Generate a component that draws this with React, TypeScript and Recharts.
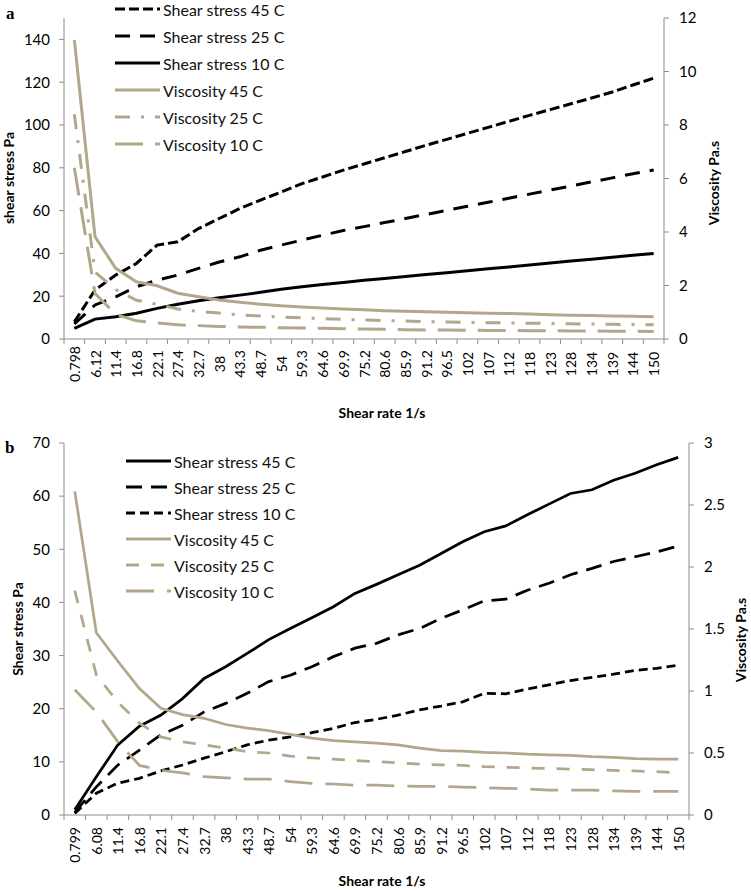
import { Legend, Line, LineChart, XAxis, YAxis } from "recharts";

const FONT = "Lato, 'Open Sans', sans-serif";
const BLACK = "#000000";
const TAN = "#b2a78b";
const AXIS = "#8c8c8c";

// shear rate categories (1/s)
const RATE_A = [
  "0.798", "6.12", "11.4", "16.8", "22.1", "27.4", "32.7", "38", "43.3", "48.7",
  "54", "59.3", "64.6", "69.9", "75.2", "80.6", "85.9", "91.2", "96.5", "102",
  "107", "112", "118", "123", "128", "134", "139", "144", "150",
];
const RATE_B = [
  "0.799", "6.08", "11.4", "16.8", "22.1", "27.4", "32.7", "38", "43.3", "48.7",
  "54", "59.3", "64.6", "69.9", "75.2", "80.6", "85.9", "91.2", "96.5", "102",
  "107", "112", "118", "123", "128", "134", "139", "144", "150",
];

// panel a — shear stress (Pa)
const SS45_A = [
  8, 22.9, 29.9, 35.3, 43.9, 45.4, 51.6, 56.3, 61, 64.9, 68.7, 72.6, 75.7, 78.9, 81.8,
  84.7, 87.6, 90.5, 93.3, 96.1, 98.9, 101.7, 104.5, 107.2, 109.9, 112.6, 115.4, 118.7, 121.9,
];
const SS25_A = [
  7, 15.9, 19.7, 24.4, 27.5, 29.9, 33, 36, 38.4, 41.5, 43.9, 46.2, 48.5, 50.7, 52.5,
  54.4, 56.3, 58.2, 60.1, 62, 63.9, 65.8, 67.7, 69.6, 71.5, 73.4, 75.3, 77.2, 79,
];
const SS10_A = [
  5, 9.3, 10.4, 12, 14.3, 16.2, 17.9, 19.3, 20.5, 21.8, 23.2, 24.4, 25.5, 26.4, 27.4,
  28.3, 29.2, 30.1, 31, 31.9, 32.8, 33.7, 34.6, 35.5, 36.4, 37.3, 38.2, 39.1, 40,
];
// panel a — viscosity (Pa.s)
const V45_A = [
  11.18, 3.82, 2.64, 2.14, 1.99, 1.71, 1.58, 1.46, 1.37, 1.3, 1.24, 1.2, 1.16, 1.12, 1.09,
  1.06, 1.04, 1.02, 1.0, 0.98, 0.96, 0.95, 0.93, 0.91, 0.89, 0.88, 0.86, 0.85, 0.83,
];
const V25_A = [
  8.4, 2.5, 1.85, 1.45, 1.3, 1.12, 1.03, 0.97, 0.9, 0.86, 0.82, 0.79, 0.76, 0.73, 0.71,
  0.69, 0.67, 0.65, 0.64, 0.62, 0.61, 0.6, 0.59, 0.58, 0.57, 0.56, 0.55, 0.54, 0.53,
];
const V10_A = [
  6.4, 1.7, 0.92, 0.68, 0.6, 0.53, 0.5, 0.47, 0.45, 0.44, 0.42, 0.41, 0.4, 0.38, 0.37,
  0.36, 0.35, 0.34, 0.34, 0.33, 0.32, 0.32, 0.31, 0.31, 0.3, 0.3, 0.29, 0.29, 0.28,
];

// panel b — shear stress (Pa)
const SS45_B = [
  1, 7.2, 13.2, 16.7, 18.8, 21.9, 25.7, 27.9, 30.4, 33, 35.1, 37.1, 39.2, 41.7, 43.4,
  45.2, 47, 49.2, 51.4, 53.3, 54.4, 56.5, 58.5, 60.5, 61.2, 63, 64.3, 65.9, 67.3,
];
const SS25_B = [
  0.5, 5.3, 9.4, 12.2, 15.1, 16.9, 19.4, 21, 22.9, 25.1, 26.3, 27.9, 29.8, 31.4, 32.3,
  33.9, 35.1, 37, 38.6, 40.3, 40.6, 42.3, 43.6, 45.2, 46.4, 47.7, 48.6, 49.5, 50.6,
];
const SS10_B = [
  0.3, 4.1, 6, 6.9, 8.3, 9.4, 10.7, 11.9, 13.2, 14.1, 14.7, 15.5, 16.3, 17.4, 18,
  18.8, 19.8, 20.5, 21.3, 22.9, 22.8, 23.7, 24.5, 25.3, 25.9, 26.5, 27.2, 27.6, 28.2,
];
// panel b — viscosity (Pa.s)
const V45_B = [
  2.61, 1.47, 1.24, 1.02, 0.86, 0.81, 0.78, 0.73, 0.7, 0.68, 0.65, 0.62, 0.6, 0.59, 0.58,
  0.565, 0.54, 0.52, 0.515, 0.505, 0.5, 0.49, 0.485, 0.48, 0.47, 0.465, 0.455, 0.45, 0.45,
];
const V25_B = [
  1.81, 1.13, 0.91, 0.74, 0.63, 0.59, 0.565, 0.54, 0.51, 0.5, 0.475, 0.46, 0.45, 0.44, 0.43,
  0.42, 0.41, 0.405, 0.4, 0.39, 0.385, 0.38, 0.375, 0.37, 0.365, 0.36, 0.355, 0.35, 0.34,
];
const V10_B = [
  1.01, 0.83, 0.59, 0.4, 0.36, 0.34, 0.31, 0.3, 0.29, 0.29, 0.27, 0.255, 0.25, 0.24, 0.24,
  0.235, 0.23, 0.23, 0.225, 0.22, 0.215, 0.21, 0.2, 0.2, 0.2, 0.195, 0.19, 0.19, 0.19,
];

const STRESS_TICKS_A = [0, 20, 40, 60, 80, 100, 120, 140];
const VISC_TICKS_A = [0, 2, 4, 6, 8, 10, 12];
const STRESS_TICKS_B = [0, 10, 20, 30, 40, 50, 60, 70];
const VISC_TICKS_B = [0, 0.5, 1, 1.5, 2, 2.5, 3];

type Series = {
  key: string;
  name: string;
  values: number[];
  axis: "left" | "right";
  color: string;
  dash?: string;
};

const SERIES_A: Series[] = [
  { key: "ss45", name: "Shear stress 45 C", values: SS45_A, axis: "left", color: BLACK, dash: "10 4" },
  { key: "ss25", name: "Shear stress 25 C", values: SS25_A, axis: "left", color: BLACK, dash: "15 10" },
  { key: "ss10", name: "Shear stress 10 C", values: SS10_A, axis: "left", color: BLACK },
  { key: "v45", name: "Viscosity 45 C", values: V45_A, axis: "right", color: TAN },
  { key: "v25", name: "Viscosity 25 C", values: V25_A, axis: "right", color: TAN, dash: "15 11 3 11" },
  { key: "v10", name: "Viscosity 10 C", values: V10_A, axis: "right", color: TAN, dash: "28 12" },
];

const SERIES_B: Series[] = [
  { key: "ss45", name: "Shear stress 45 C", values: SS45_B, axis: "left", color: BLACK },
  { key: "ss25", name: "Shear stress 25 C", values: SS25_B, axis: "left", color: BLACK, dash: "16 9" },
  { key: "ss10", name: "Shear stress 10 C", values: SS10_B, axis: "left", color: BLACK, dash: "9 5" },
  { key: "v45", name: "Viscosity 45 C", values: V45_B, axis: "right", color: TAN },
  { key: "v25", name: "Viscosity 25 C", values: V25_B, axis: "right", color: TAN, dash: "13 12" },
  { key: "v10", name: "Viscosity 10 C", values: V10_B, axis: "right", color: TAN, dash: "28 13" },
];

function buildRows(rates: string[], series: Series[]) {
  return rates.map((rate, i) => {
    const row: Record<string, number | string> = { rate };
    for (const s of series) row[s.key] = s.values[i];
    return row;
  });
}

// axis titles: own prop names so recharts' injected label props don't clash
function AxisTitle({ tx, ty, text, rot = 0 }: { tx: number; ty: number; text: string; rot?: number }) {
  return (
    <text
      x={tx}
      y={ty}
      transform={rot ? `rotate(${rot} ${tx} ${ty})` : undefined}
      textAnchor="middle"
      dominantBaseline="central"
      fontFamily={FONT}
      fontWeight="bold"
      fontSize={14}
      fill="#000"
    >
      {text}
    </text>
  );
}

function makeRateTick(axisY: number, band: number, count: number, labelY: number, anchor: "middle" | "end") {
  return (props: any) => {
    const { x, payload, index } = props;
    return (
      <g>
        <line x1={x - band / 2} x2={x - band / 2} y1={axisY} y2={axisY + 5} stroke={AXIS} />
        {index === count - 1 && (
          <line x1={x + band / 2} x2={x + band / 2} y1={axisY} y2={axisY + 5} stroke={AXIS} />
        )}
        <text
          x={x}
          y={labelY}
          transform={`rotate(-90 ${x} ${labelY})`}
          textAnchor={anchor}
          dominantBaseline="central"
          fontFamily={FONT}
          fontSize={14}
          fill="#000"
        >
          {payload.value}
        </text>
      </g>
    );
  };
}

function LegendBox({ series, rowHeight }: { series: Series[]; rowHeight: number }) {
  return (
    <div style={{ fontFamily: FONT, fontSize: 16, color: "#111" }}>
      {series.map((s) => (
        <div key={s.key} style={{ display: "flex", alignItems: "center", height: rowHeight }}>
          <svg width={45} height={6} style={{ display: "block" }}>
            <line x1={0} x2={45} y1={3} y2={3} stroke={s.color} strokeWidth={3} strokeDasharray={s.dash} />
          </svg>
          <span style={{ marginLeft: 3, whiteSpace: "nowrap" }}>{s.name}</span>
        </div>
      ))}
    </div>
  );
}

type PanelProps = {
  rates: string[];
  series: Series[];
  height: number;
  top: number;
  plotBottom: number;
  leftWidth: number;
  rightWidth: number;
  stressMax: number;
  stressTicks: number[];
  viscMax: number;
  viscTicks: number[];
  labelY: number;
  labelAnchor: "middle" | "end";
  leftTitle: { x: number; y: number; text: string };
  rightTitle: { x: number; y: number };
  xTitleY: number;
  legendTop: number;
  legendLeft: number;
  legendRow: number;
  lineWidth: number;
};

const WIDTH = 751;

function RheologyPanel(p: PanelProps) {
  const rows = buildRows(p.rates, p.series);
  const plotWidth = WIDTH - p.leftWidth - p.rightWidth;
  const band = plotWidth / p.rates.length;
  const xHeight = p.height - p.plotBottom;
  const tickStyle = { fill: "#000", fontSize: 15, fontFamily: FONT };

  return (
    <LineChart
      width={WIDTH}
      height={p.height}
      data={rows}
      margin={{ top: p.top, right: 0, bottom: 0, left: 0 }}
    >
      <XAxis
        dataKey="rate"
        interval={0}
        height={xHeight}
        padding={{ left: band / 2, right: band / 2 }}
        axisLine={{ stroke: AXIS }}
        tickLine={false}
        tick={makeRateTick(p.plotBottom, band, p.rates.length, p.labelY, p.labelAnchor)}
        label={<AxisTitle tx={382} ty={p.xTitleY} text="Shear rate 1/s" />}
      />
      <YAxis
        yAxisId="left"
        width={p.leftWidth}
        domain={[0, p.stressMax]}
        ticks={p.stressTicks}
        axisLine={{ stroke: AXIS }}
        tickLine={{ stroke: AXIS }}
        tickSize={5}
        tickMargin={9}
        tick={tickStyle}
        label={<AxisTitle tx={p.leftTitle.x} ty={p.leftTitle.y} text={p.leftTitle.text} rot={-90} />}
      />
      <YAxis
        yAxisId="right"
        orientation="right"
        width={p.rightWidth}
        domain={[0, p.viscMax]}
        ticks={p.viscTicks}
        axisLine={{ stroke: AXIS }}
        tickLine={{ stroke: AXIS }}
        tickSize={5}
        tickMargin={10}
        tick={tickStyle}
        label={<AxisTitle tx={p.rightTitle.x} ty={p.rightTitle.y} text="Viscosity Pa.s" rot={-90} />}
      />
      <Legend
        layout="vertical"
        align="center"
        verticalAlign="middle"
        wrapperStyle={{ top: p.legendTop, left: p.legendLeft, width: 220 }}
        content={() => <LegendBox series={p.series} rowHeight={p.legendRow} />}
      />
      {p.series.map((s) => (
        <Line
          key={s.key}
          yAxisId={s.axis}
          type="linear"
          dataKey={s.key}
          name={s.name}
          stroke={s.color}
          strokeWidth={p.lineWidth}
          strokeDasharray={s.dash}
          dot={false}
          activeDot={false}
          isAnimationActive={false}
        />
      ))}
    </LineChart>
  );
}

const panelLetter = {
  position: "absolute" as const,
  fontFamily: "'Liberation Serif', 'DejaVu Serif', serif",
  fontWeight: "bold" as const,
  fontSize: 17,
  lineHeight: "17px",
};

export default function App() {
  return (
    <div style={{ position: "absolute", top: 0, left: 0, width: WIDTH, height: 891, background: "#fff" }}>
      <div style={{ position: "absolute", top: 0, left: 0 }}>
        <RheologyPanel
          rates={RATE_A}
          series={SERIES_A}
          height={430}
          top={18}
          plotBottom={339}
          leftWidth={64}
          rightWidth={87}
          stressMax={150}
          stressTicks={STRESS_TICKS_A}
          viscMax={12}
          viscTicks={VISC_TICKS_A}
          labelY={364}
          labelAnchor="middle"
          leftTitle={{ x: 8, y: 178, text: "shear stress Pa" }}
          rightTitle={{ x: 713, y: 183 }}
          xTitleY={412}
          legendTop={-4.5}
          legendLeft={115}
          legendRow={27}
          lineWidth={3}
        />
      </div>
      <div style={{ position: "absolute", top: 430, left: 0 }}>
        <RheologyPanel
          rates={RATE_B}
          series={SERIES_B}
          height={461}
          top={13}
          plotBottom={385}
          leftWidth={64}
          rightWidth={62}
          stressMax={70}
          stressTicks={STRESS_TICKS_B}
          viscMax={3}
          viscTicks={VISC_TICKS_B}
          labelY={397}
          labelAnchor="end"
          leftTitle={{ x: 17, y: 199, text: "Shear stress Pa" }}
          rightTitle={{ x: 740, y: 210 }}
          xTitleY={450}
          legendTop={18}
          legendLeft={126}
          legendRow={26}
          lineWidth={2.75}
        />
      </div>
      <div style={{ ...panelLetter, top: 5, left: 6 }}>a</div>
      <div style={{ ...panelLetter, top: 439, left: 5 }}>b</div>
    </div>
  );
}
